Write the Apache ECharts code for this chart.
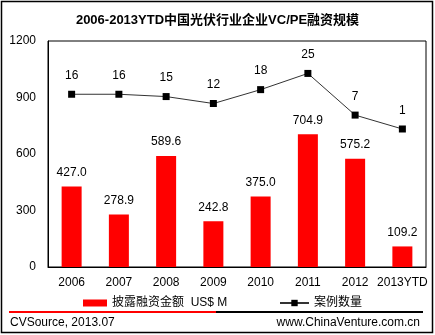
<!DOCTYPE html>
<html><head><meta charset="utf-8">
<script src="https://cdn.jsdelivr.net/npm/echarts@6/dist/echarts.min.js"></script>
<style>html,body{margin:0;padding:0;background:#fff}#c{width:435px;height:335px}</style>
</head><body><div id="c"></div>
<script>
const categories = ['2006','2007','2008','2009','2010','2011','2012','2013YTD'];
const amounts = [427.0, 278.9, 589.6, 242.8, 375.0, 704.9, 575.2, 109.2];
const cases = [16, 16, 15, 12, 18, 25, 7, 1];
const yTicks = [0, 300, 600, 900, 1200];
const barName = '披露融资金额  US$ M';
const lineName = '案例数量';

const FONT = '"Liberation Sans", Arial, "Noto Sans CJK SC", sans-serif';
const chart = echarts.init(document.getElementById('c'), null, {renderer:'canvas'});
chart.setOption({
  animation:false,
  backgroundColor:'#fff',
  textStyle:{fontFamily:FONT},
  title:{text:'2006-2013YTD中国光伏行业企业VC/PE融资规模', left:'center', top:9,
    textStyle:{fontSize:13, fontWeight:'bold', color:'#000', fontFamily:FONT}},
  grid:{left:48, top:41, right:9, bottom:68, show:true, borderColor:'#000', borderWidth:1, backgroundColor:'transparent'},
  legend:[
    {data:[{name:barName, icon:'rect'}], left:78, top:292, itemWidth:24, itemHeight:7, itemGap:4,
      textStyle:{fontSize:12, color:'#000', fontFamily:FONT, padding:[0,0,0,0]}},
    {data:[{name:lineName}], left:274, top:292, itemWidth:29, itemHeight:8,
      textStyle:{fontSize:12, color:'#000', fontFamily:FONT}}
  ],
  xAxis:{type:'category', data:categories, axisTick:{show:false},
    axisLine:{lineStyle:{color:'#000', width:1}},
    axisLabel:{color:'#000', fontSize:12, margin:10, fontFamily:FONT, interval:0}},
  yAxis:[
    {type:'value', min:yTicks[0], max:yTicks[yTicks.length-1], interval:300, splitLine:{show:false},
      axisLine:{show:true, lineStyle:{color:'#000'}}, axisTick:{show:false},
      axisLabel:{color:'#000', fontSize:12, margin:12, fontFamily:FONT, formatter:v=>String(v)}},
    {type:'value', min:-58.6, max:39, show:false, splitLine:{show:false}}
  ],
  series:[
    {name:barName, type:'bar', data:amounts, barWidth:20, itemStyle:{color:'#ff0000'},
      label:{show:true, position:'top', distance:8, color:'#000', fontSize:12, fontFamily:FONT,
        formatter:p=>p.value.toFixed(1)}},
    {name:lineName, type:'line', yAxisIndex:1, data:cases, symbol:'rect', symbolSize:7,
      lineStyle:{color:'#333', width:1}, itemStyle:{color:'#000'},
      label:{show:true, position:'top', distance:9, color:'#000', fontSize:12, fontFamily:FONT}}
  ],
  graphic:[
    {type:'rect', shape:{x:1.5, y:1.5, width:431, height:331}, style:{fill:null, stroke:'#000', lineWidth:1.5}, silent:true},
    {type:'rect', shape:{x:9, y:311, width:207, height:2}, style:{fill:'#ff0000'}},
    {type:'rect', shape:{x:216, y:311, width:207, height:2}, style:{fill:'#000'}},
    {type:'text', left:10, top:317, style:{text:'CVSource, 2013.07', fontSize:12, fill:'#000', font:'12px '+FONT}},
    {type:'text', right:15, top:317, style:{text:'www.ChinaVenture.com.cn', fontSize:12, fill:'#000', font:'12px '+FONT}}
  ]
});
</script></body></html>
